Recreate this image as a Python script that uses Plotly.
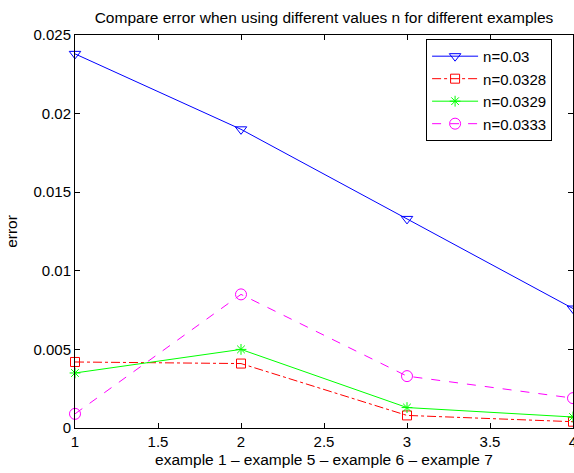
import plotly.graph_objects as go

x_vals = [1, 2, 3, 4]
n_003 = [0.0238, 0.0190, 0.0133, 0.0076]
n_00328 = [0.0042, 0.0041, 0.0008, 0.0004]
n_00329 = [0.0035, 0.0050, 0.0013, 0.0007]
n_00333 = [0.0009, 0.0085, 0.0033, 0.0019]

x_ticks = [1, 1.5, 2, 2.5, 3, 3.5, 4]
x_ticktext = ["1", "1.5", "2", "2.5", "3", "3.5", "4"]
y_ticks = [0, 0.005, 0.01, 0.015, 0.02, 0.025]
y_ticktext = ["0", "0.005", "0.01", "0.015", "0.02", "0.025"]

series = [
    ("n=0.03", n_003, "#0000ff", "solid", "triangle-down-open", 10),
    ("n=0.0328", n_00328, "#ff0000", "dashdot", "square-open", 9),
    ("n=0.0329", n_00329, "#00ff00", "solid", "asterisk-open", 9),
    ("n=0.0333", n_00333, "#ff00ff", "dash", "circle-open", 11),
]

fig = go.Figure()
for name, ys, color, dash, sym, size in series:
    fig.add_trace(go.Scatter(
        x=x_vals, y=ys, name=name, mode="lines+markers",
        line=dict(color=color, width=1, dash=dash),
        marker=dict(symbol=sym, size=size, color=color, line=dict(color=color, width=1)),
        cliponaxis=False,
    ))

font = "Liberation Sans, Arial, Helvetica, sans-serif"
fig.update_layout(
    width=574, height=473,
    margin=dict(l=75, r=1, t=35, b=45, autoexpand=False),
    paper_bgcolor="white", plot_bgcolor="white",
    font=dict(family=font, size=15, color="black"),
    title=dict(text="Compare error when using different values n for different examples",
               x=0.5, xref="paper", y=1 - 18 / 473, yref="container", yanchor="middle",
               font=dict(size=15.5, color="black")),
    showlegend=True,
    legend=dict(x=0.705, y=0.99, xanchor="left", yanchor="top",
                bordercolor="black", borderwidth=1, bgcolor="white",
                font=dict(size=15), tracegroupgap=0, itemwidth=46),
    xaxis=dict(range=[1, 4], tickvals=x_ticks, ticktext=x_ticktext,
               ticks="inside", ticklen=5, tickcolor="black",
               showline=True, linecolor="black", linewidth=1, mirror="ticks",
               showgrid=False, zeroline=False, automargin=False,
               ticklabeloverflow="allow", tickfont=dict(size=15),
               title=dict(text="example 1 \u2013 example 5 \u2013 example 6 \u2013 example 7",
                          font=dict(size=15.5), standoff=5)),
    yaxis=dict(range=[0, 0.025], tickvals=y_ticks, ticktext=y_ticktext,
               ticks="inside", ticklen=5, tickcolor="black",
               showline=True, linecolor="black", linewidth=1, mirror="ticks",
               showgrid=False, zeroline=False, automargin=False,
               tickfont=dict(size=15),
               title=dict(text="error", font=dict(size=15.5), standoff=12)),
)
fig.write_html("out.html", config={"displayModeBar": False},
               post_script="document.body.style.margin='0';document.body.style.overflow='hidden';")
